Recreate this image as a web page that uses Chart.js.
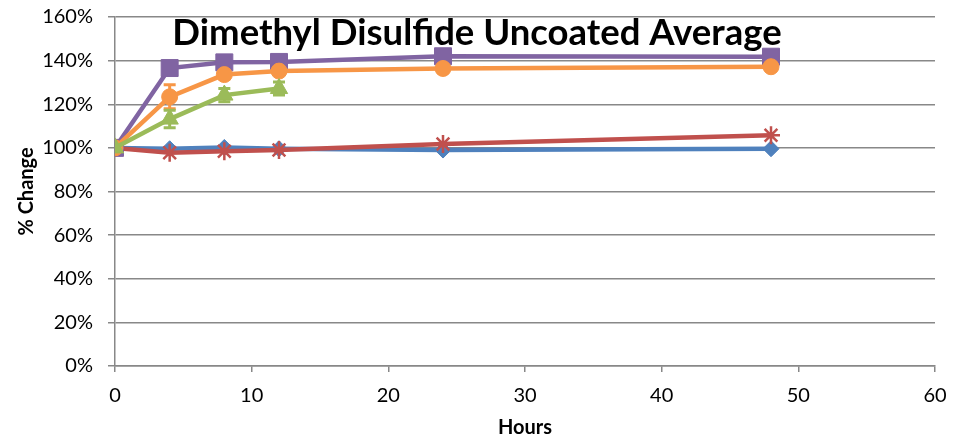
<!DOCTYPE html>
<html>
<head>
<meta charset="utf-8">
<script src="https://cdn.jsdelivr.net/npm/chart.js@4"></script>
<style>
  body { margin: 0; background: #fff; }
  #wrap { width: 964px; height: 440px; }
</style>
</head>
<body>
<div id="wrap"><canvas id="dmdsChart" width="964" height="440"></canvas></div>
<script>
// Hours sampled
const hours = [0, 4, 8, 12, 24, 48];
const greenHours = [0, 4, 8, 12];

// % change per series
const blueVals = [100, 99.6, 100.2, 99.6, 99.0, 99.6];
const redVals = [100, 97.8, 98.5, 99.0, 101.8, 105.8];
const purpleVals = [100, 136.6, 139.2, 139.4, 142.0, 141.8];
const orangeVals = [100, 123.4, 133.6, 135.2, 136.4, 137.2];
const greenVals = [100, 113.2, 124.2, 127.2];

// error bar half-widths (%)
const purpleErr = [0, 1.5, 1.5, 1.5, 0.8, 0.8];
const orangeErr = [0, 5.5, 2, 1.5, 0.8, 0.8];
const greenErr = [0, 4, 3, 3];

const yTicks = [0, 20, 40, 60, 80, 100, 120, 140, 160];

const font = 'Lato';

function pts(xs, ys) {
    return xs.map((x, i) => ({x: x, y: ys[i]}));
}

// Draw error bars under each series' own markers
const errorBars = {
    id: 'errorBars',
    beforeDatasetDraw(chart, args) {
        const ds = chart.data.datasets[args.index];
        if (!ds.errors) return;
        const ctx = chart.ctx;
        const yScale = chart.scales.y;
        ctx.save();
        ctx.strokeStyle = ds.borderColor;
        ctx.lineWidth = 3;
        args.meta.data.forEach((pt, i) => {
            const e = ds.errors[i];
            if (!e) return;
            const v = ds.data[i].y;
            const top = yScale.getPixelForValue(v + e);
            const bot = yScale.getPixelForValue(v - e);
            ctx.beginPath();
            ctx.moveTo(pt.x, top);
            ctx.lineTo(pt.x, bot);
            ctx.moveTo(pt.x - 6, top);
            ctx.lineTo(pt.x + 6, top);
            ctx.moveTo(pt.x - 6, bot);
            ctx.lineTo(pt.x + 6, bot);
            ctx.stroke();
        });
        ctx.restore();
    }
};

// Title overlaps the plot area like the original
const overlayTitle = {
    id: 'overlayTitle',
    afterDraw(chart) {
        const ctx = chart.ctx;
        ctx.save();
        ctx.font = 'bold 36.5px ' + font;
        ctx.fillStyle = '#000';
        ctx.textAlign = 'center';
        ctx.textBaseline = 'middle';
        ctx.fillText('Dimethyl Disulfide Uncoated Average', 477, 33);
        ctx.restore();
    }
};

function series(data, color, style, radius, order, errors) {
    return {
        data: data,
        borderColor: color,
        backgroundColor: color,
        borderWidth: 4.5,
        pointStyle: style,
        pointRadius: radius,
        pointBorderWidth: style === 'star' ? 2.5 : 1,
        pointBorderColor: color,
        pointBackgroundColor: color,
        order: order,
        errors: errors
    };
}

const ctx = document.getElementById('dmdsChart').getContext('2d');
new Chart(ctx, {
    type: 'line',
    data: {
        datasets: [
            series(pts(greenHours, greenVals), '#9BBB59', 'triangle', 10, 1, greenErr),
            series(pts(hours, orangeVals), '#F79646', 'circle', 8, 2, orangeErr),
            series(pts(hours, purpleVals), '#8064A2', 'rect', 12, 3, purpleErr),
            series(pts(hours, redVals), '#C0504D', 'star', 9, 4, null),
            series(pts(hours, blueVals), '#4F81BD', 'rectRot', 8, 5, null)
        ]
    },
    options: {
        responsive: false,
        animation: false,
        layout: {
            padding: {top: 17, right: 29, left: 0, bottom: 0}
        },
        scales: {
            x: {
                type: 'linear',
                min: 0,
                max: 60,
                afterFit(scale) {
                    scale.height = 74;
                },
                ticks: {
                    stepSize: 10,
                    color: '#000',
                    font: {family: font, size: 20},
                    padding: 12
                },
                grid: {
                    drawOnChartArea: false,
                    color: '#888',
                    tickLength: 6,
                    lineWidth: 1.5
                },
                border: {color: '#888', width: 1.5},
                title: {
                    display: true,
                    text: 'Hours',
                    color: '#000',
                    font: {family: font, size: 20, weight: 'bold'},
                    padding: {top: 4, bottom: 0}
                }
            },
            y: {
                min: 0,
                max: 160,
                afterBuildTicks(axis) {
                    axis.ticks = yTicks.map(v => ({value: v}));
                },
                afterFit(scale) {
                    scale.width = 115;
                    scale.paddingTop = 0;
                    scale.paddingBottom = 0;
                },
                ticks: {
                    color: '#000',
                    font: {family: font, size: 20},
                    padding: 15,
                    callback: v => v + '%'
                },
                grid: {
                    color: '#888',
                    tickLength: 7,
                    lineWidth: 1.5
                },
                border: {color: '#888', width: 1.5},
                title: {
                    display: true,
                    text: '% Change',
                    color: '#000',
                    font: {family: font, size: 20, weight: 'bold'},
                    padding: {top: 15, bottom: 0}
                }
            }
        },
        plugins: {
            legend: {display: false},
            title: {display: false},
            tooltip: {enabled: false}
        }
    },
    plugins: [errorBars, overlayTitle]
});
</script>
</body>
</html>
